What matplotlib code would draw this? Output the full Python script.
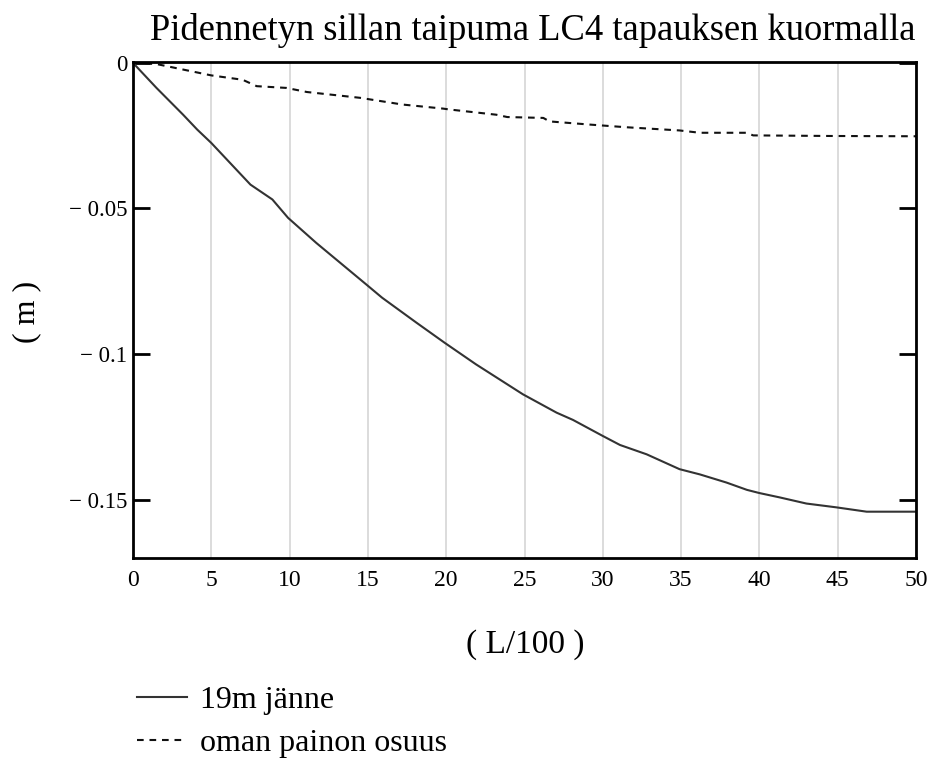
import matplotlib
matplotlib.use("Agg")
import matplotlib.pyplot as plt
from matplotlib.ticker import FixedLocator

# ---- data ----
x_main = [0, 1.5, 3.2, 4.1, 5.0, 7.5, 8.9, 9.9, 11.7, 14.9, 15.9, 18.1, 19.9, 21.9,
          24.9, 27.05, 28.1, 30.0, 31.1, 32.8, 34.9, 36.2, 37.9, 39.2, 40.0, 41.3,
          43.0, 44.9, 46.85, 50]
y_main = [0, -0.0086, -0.0178, -0.0229, -0.0275, -0.0418, -0.0469, -0.0532, -0.0618,
          -0.0761, -0.0806, -0.0892, -0.0961, -0.1035, -0.1138, -0.1201, -0.1226,
          -0.1281, -0.1312, -0.1344, -0.1395, -0.1413, -0.1441, -0.1466, -0.1477,
          -0.1492, -0.1513, -0.1526, -0.1541, -0.1541]

x_self = [0, 1.5, 5, 7, 7.9, 9.8, 11.1, 14.5, 17.2, 19.8, 20.2, 23.2, 23.9, 26.2, 26.6,
          29.2, 31.5, 34.9, 36.2, 39.2, 39.6, 44.5, 50]
y_self = [0, -0.0004, -0.0043, -0.0058, -0.0080, -0.0086, -0.0100, -0.0120, -0.0143,
          -0.0157, -0.0160, -0.0178, -0.0186, -0.0189, -0.0201, -0.0212, -0.0221,
          -0.0232, -0.0240, -0.0240, -0.0249, -0.0251, -0.0252]

x_ticks = [0, 5, 10, 15, 20, 25, 30, 35, 40, 45, 50]
y_ticks = [0, -0.05, -0.1, -0.15]
y_ticklabels = ["0", "\u2212 0.05", "\u2212 0.1", "\u2212 0.15"]

title = "Pidennetyn sillan taipuma LC4 tapauksen kuormalla"
xlabel = "( L/100 )"
ylabel = "( m )"
labels = ["19m jänne", "oman painon osuus"]

plt.rcParams['font.family'] = ['Liberation Serif', 'DejaVu Serif']

fig = plt.figure(figsize=(9.38, 7.58), dpi=100)
ax = fig.add_axes([133/938, 1-558/758, (916-133)/938, (558-62)/758])

l1, = ax.plot(x_main, y_main, color='#333333', lw=1.5)
l2, = ax.plot(x_self, y_self, color='#111111', lw=1.5, linestyle=(0, (3.2, 2.8)))

ax.set_xlim(0, 50)
ax.set_ylim(-0.17, 0.0003)

ax.xaxis.set_major_locator(FixedLocator(x_ticks))
ax.set_xticklabels([str(t) for t in x_ticks], fontsize=17)
ax.tick_params(axis='x', length=0, pad=9)
ax.grid(axis='x', color='#d9d9d9', lw=1.3)
ax.set_axisbelow(True)

ax.yaxis.set_major_locator(FixedLocator(y_ticks))
ax.set_yticklabels(y_ticklabels, fontsize=16.5)
ax.tick_params(axis='y', direction='in', length=12, width=2, left=True, right=True, pad=4)

for s in ax.spines.values():
    s.set_linewidth(2)
    s.set_color('black')

fig.text(533/938, 1-30/758, title, ha='center', va='center', fontsize=26.3)
fig.text(525/938, 1-645/758, xlabel, ha='center', va='center', fontsize=24)
fig.text(27/938, 1-312/758, ylabel, ha='center', va='center', fontsize=23, rotation=90)

fig.legend([l1, l2], labels, loc='upper left', bbox_to_anchor=(137/938, 1-686/758),
           frameon=False, fontsize=23, handlelength=1.56, handletextpad=0.4,
           labelspacing=0.42, borderaxespad=0, borderpad=0)

fig.savefig("out.png", dpi=100)
